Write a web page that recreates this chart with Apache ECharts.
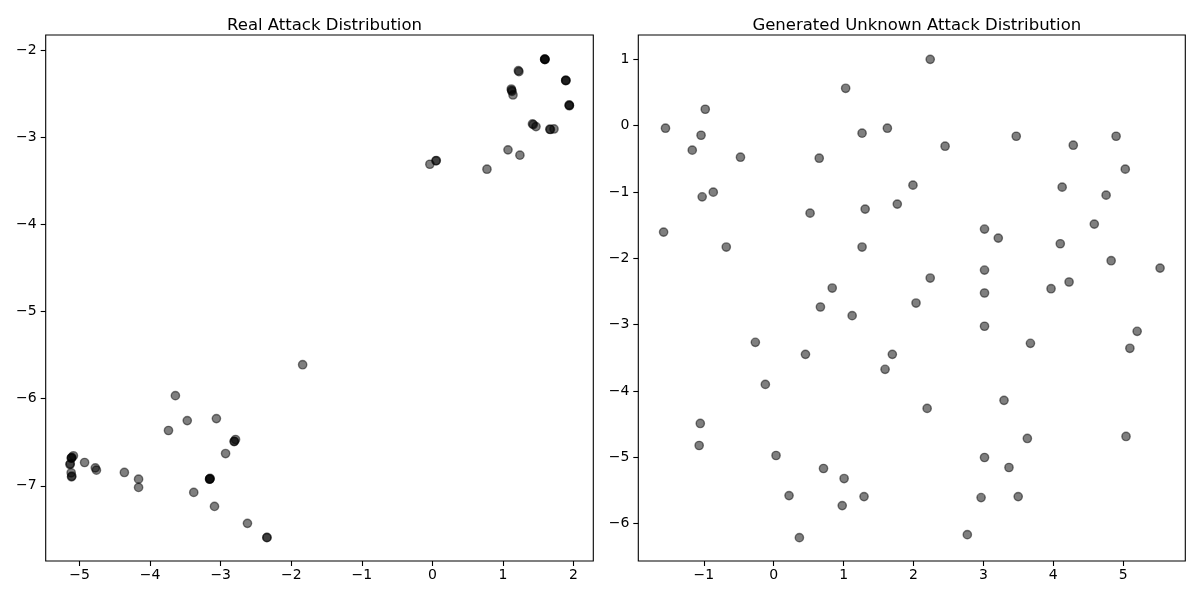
<!DOCTYPE html>
<html>
<head>
<meta charset="utf-8">
<script src="https://cdn.jsdelivr.net/npm/echarts@6/dist/echarts.min.js"></script>
<style>
  html, body { margin: 0; padding: 0; background: #fff; }
  #chart-ctn { width: 1200px; height: 600px; }
</style>
</head>
<body>
<div id="chart-ctn"></div>
<script>
// real attack points (left panel)
var realX = [
  1.590, 1.595, 1.592, 1.596,
  1.218, 1.226,
  1.890, 1.893, 1.888,
  1.118, 1.122, 1.128, 1.142,
  1.938, 1.942, 1.940,
  1.418, 1.430, 1.468,
  1.664, 1.672, 1.723,
  1.071, 1.240, 0.773,
  0.050, 0.055, -0.036,
  -1.839, -3.642, -3.474, -3.061, -3.740,
  -2.806, -2.810, -2.790,
  -2.931,
  -3.154, -3.158, -3.150, -3.156,
  -3.382, -3.088, -2.621,
  -2.344, -2.346,
  -4.365, -4.164, -4.164, -4.929,
  -4.777, -4.761,
  -5.114, -5.118, -5.110, -5.087,
  -5.136, -5.132,
  -5.119,
  -5.114, -5.110
];
var realY = [
  -2.105, -2.110, -2.108, -2.104,
  -2.237, -2.249,
  -2.346, -2.350, -2.352,
  -2.448, -2.462, -2.475, -2.516,
  -2.630, -2.636, -2.640,
  -2.848, -2.856, -2.879,
  -2.909, -2.912, -2.906,
  -3.146, -3.207, -3.368,
  -3.272, -3.268, -3.311,
  -5.611, -5.966, -6.252, -6.229, -6.366,
  -6.489, -6.493, -6.469,
  -6.630,
  -6.920, -6.925, -6.916, -6.922,
  -7.076, -7.237, -7.431,
  -7.592, -7.595,
  -6.847, -6.924, -7.019, -6.733,
  -6.794, -6.821,
  -6.679, -6.684, -6.675, -6.656,
  -6.756, -6.748,
  -6.851,
  -6.897, -6.890
];

// generated unknown attack points (right panel)
var genX = [
  -1.549, -0.980, -1.040, -1.166, -0.476, -0.865, -1.024, -1.576, -0.679,
  1.029, 2.239, 0.651, 1.264, 1.626, 2.452, 1.992, 1.768, 1.308, 0.520, 1.264,
  3.470, 4.286, 4.899, 5.030, 4.127, 4.756, 4.587, 3.016, 3.213, 4.100,
  4.828, 5.528, 3.016, 3.016, 4.226, 3.968, 2.239, 0.837, 0.668, 2.036, 1.122,
  3.016, 5.200, 5.096, 3.673, -0.263, 0.454, 1.697, 1.593, -0.120, 2.195,
  3.295, -1.051, -1.067, 3.629, 5.041, 0.033, 3.016, 0.712, 3.366, 1.007,
  0.219, 1.292, 0.980, 2.967, 3.498, 0.367, 2.770
];
var genY = [
  -0.040, 0.246, -0.146, -0.371, -0.477, -1.004, -1.074, -1.606, -1.831,
  0.562, 0.998, -0.492, -0.115, -0.040, -0.311, -0.898, -1.184, -1.259, -1.320, -1.831,
  -0.161, -0.296, -0.161, -0.657, -0.928, -1.049, -1.485, -1.560, -1.696, -1.781,
  -2.037, -2.148, -2.178, -2.524, -2.358, -2.459, -2.298, -2.449, -2.735, -2.675, -2.865,
  -3.025, -3.101, -3.357, -3.282, -3.267, -3.448, -3.448, -3.674, -3.901, -4.263,
  -4.142, -4.490, -4.822, -4.716, -4.686, -4.973, -5.003, -5.169, -5.154, -5.320,
  -5.577, -5.592, -5.728, -5.607, -5.592, -6.211, -6.166
];

var realXTicks = [-5, -4, -3, -2, -1, 0, 1, 2];
var realYTicks = [-7, -6, -5, -4, -3, -2];
var genXTicks = [-1, 0, 1, 2, 3, 4, 5];
var genYTicks = [-6, -5, -4, -3, -2, -1, 0, 1];

var realTitle = 'Real Attack Distribution';
var genTitle = 'Generated Unknown Attack Distribution';

function zipPoints(xs, ys) {
  var pts = [];
  for (var i = 0; i < xs.length; i++) {
    pts.push([xs[i], ys[i]]);
  }
  return pts;
}

function minusFmt(v) {
  return String(v).replace('-', '\u2212');
}

function valueAxis(gridIndex, min, max, ticks, isY) {
  return {
    type: 'value',
    gridIndex: gridIndex,
    min: min,
    max: max,
    scale: true,
    axisLine: { show: false, onZero: false },
    splitLine: { show: false },
    axisTick: {
      show: true,
      customValues: ticks,
      length: 5,
      lineStyle: { color: '#000', width: 1.1 }
    },
    axisLabel: {
      show: true,
      customValues: ticks,
      formatter: minusFmt,
      color: '#000',
      fontSize: 14,
      fontFamily: 'DejaVu Sans',
      margin: isY ? 9 : 7
    }
  };
}

var myChart = echarts.init(document.getElementById('chart-ctn'), null, { renderer: 'canvas' });

var pointStyle = {
  color: 'rgba(0,0,0,0.5)',
  borderColor: 'rgba(0,0,0,0.5)',
  borderWidth: 1.4,
  opacity: 1
};

var titleStyle = { fontSize: 16.5, fontWeight: 'normal', color: '#000', fontFamily: 'DejaVu Sans' };

var option = {
  backgroundColor: '#fff',
  animation: false,
  title: [
    { text: realTitle, left: 319.5, top: 12, textAlign: 'center', textStyle: titleStyle },
    { text: genTitle, left: 911.8, top: 12, textAlign: 'center', textStyle: titleStyle }
  ],
  grid: [
    { left: 45.7, top: 35, width: 547.6, height: 526, show: true, borderColor: '#000', borderWidth: 1.1, backgroundColor: 'transparent' },
    { left: 638.3, top: 35, width: 547, height: 526, show: true, borderColor: '#000', borderWidth: 1.1, backgroundColor: 'transparent' }
  ],
  xAxis: [
    valueAxis(0, -5.48, 2.28, realXTicks, false),
    valueAxis(1, -1.938, 5.889, genXTicks, false)
  ],
  yAxis: [
    valueAxis(0, -7.863, -1.828, realYTicks, true),
    valueAxis(1, -6.563, 1.365, genYTicks, true)
  ],
  series: [
    {
      type: 'scatter', xAxisIndex: 0, yAxisIndex: 0,
      symbolSize: 8.3, itemStyle: pointStyle,
      data: zipPoints(realX, realY)
    },
    {
      type: 'scatter', xAxisIndex: 1, yAxisIndex: 1,
      symbolSize: 8.3, itemStyle: pointStyle,
      data: zipPoints(genX, genY)
    }
  ]
};

myChart.setOption(option);
</script>
</body>
</html>
